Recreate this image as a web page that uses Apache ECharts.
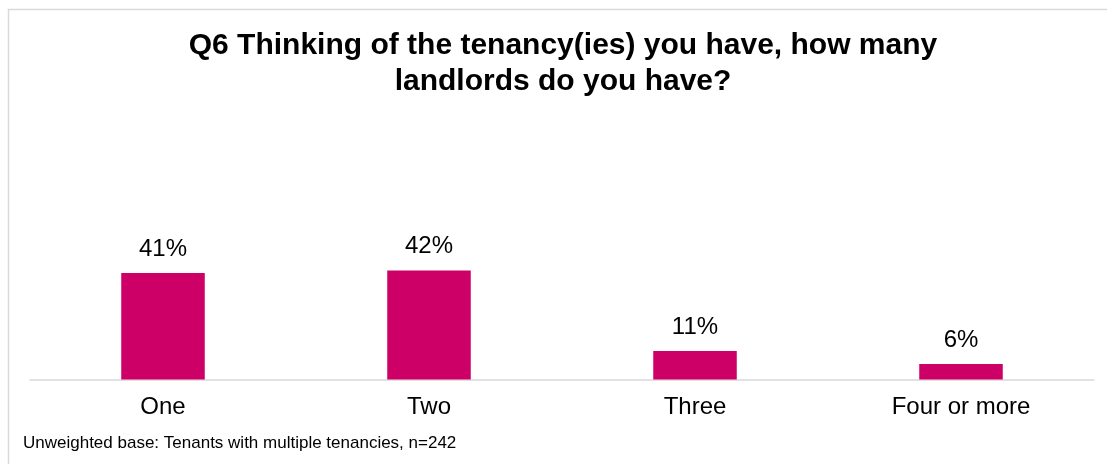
<!DOCTYPE html>
<html>
<head>
<meta charset="utf-8">
<script src="https://cdn.jsdelivr.net/npm/echarts@6/dist/echarts.min.js"></script>
<style>
  html, body { margin: 0; padding: 0; background: #ffffff; }
  #chart { width: 1107px; height: 464px; }
</style>
</head>
<body>
<div id="chart"></div>
<script>
// Number of landlords held by tenants with multiple tenancies
const categories = ['One', 'Two', 'Three', 'Four or more'];
const shares = [41, 42, 11, 6];
const titleLines = ['Q6 Thinking of the tenancy(ies) you have, how many', 'landlords do you have?'];
const baseNote = 'Unweighted base: Tenants with multiple tenancies, n=242';

const FONT = 'Liberation Sans, Arial, sans-serif';
const chart = echarts.init(document.getElementById('chart'), null, { renderer: 'canvas' });

chart.setOption({
  backgroundColor: '#ffffff',
  animation: false,
  textStyle: { fontFamily: FONT },
  graphic: [
    {
      // frame around the chart area
      type: 'rect',
      shape: { x: 8.5, y: 9.5, width: 1120, height: 480 },
      style: { fill: 'none', stroke: '#d9d9d9', lineWidth: 1.5 },
      silent: true
    },
    {
      type: 'text',
      x: 23,
      y: 443,
      style: {
        text: baseNote,
        font: '17px "Liberation Sans", Arial, sans-serif',
        fill: '#000000',
        textVerticalAlign: 'middle'
      }
    }
  ],
  title: {
    text: titleLines.join('\n'),
    left: 558,
    textAlign: 'center',
    top: 23,
    textStyle: {
      fontFamily: FONT,
      fontSize: 30,
      fontWeight: 'bold',
      color: '#000000',
      lineHeight: 36
    }
  },
  grid: { left: 30, right: 13, top: 120, bottom: 84.5, containLabel: false },
  xAxis: {
    type: 'category',
    data: categories,
    axisLine: { show: true, lineStyle: { color: '#d9d9d9', width: 1.5 } },
    axisTick: { show: false },
    axisLabel: {
      color: '#000000',
      fontSize: 24,
      margin: 16,
      fontFamily: FONT
    }
  },
  yAxis: {
    type: 'value',
    min: 0,
    max: 100,
    show: false,
    splitLine: { show: false }
  },
  series: [{
    type: 'bar',
    data: shares,
    barWidth: '31.4%',
    itemStyle: { color: '#cc0066' },
    label: {
      show: true,
      position: 'top',
      distance: 12,
      formatter: '{c}%',
      color: '#000000',
      fontSize: 24,
      fontFamily: FONT
    }
  }]
});
</script>
</body>
</html>
